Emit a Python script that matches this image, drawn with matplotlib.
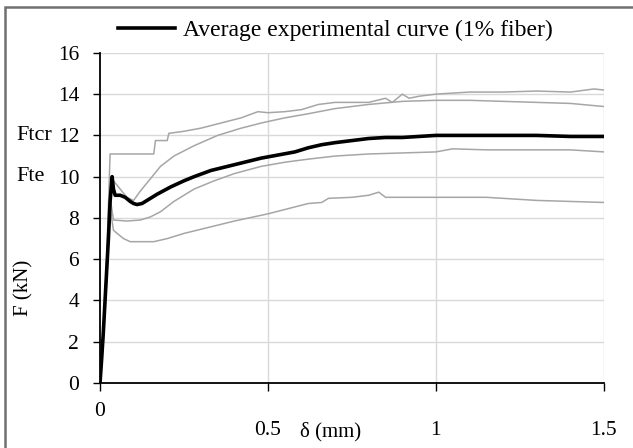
import matplotlib
matplotlib.use("Agg")
import matplotlib.pyplot as plt
from matplotlib.patches import Rectangle

# average experimental curve (1% fiber)
avg_d = [0, 0.005, 0.01, 0.015, 0.02, 0.025, 0.03, 0.036, 0.04, 0.045, 0.06, 0.075, 0.09, 0.1,
         0.11, 0.125, 0.14, 0.17, 0.21, 0.25, 0.28, 0.33, 0.38, 0.43, 0.48, 0.53, 0.58, 0.62,
         0.66, 0.7, 0.75, 0.8, 0.85, 0.9, 0.95, 1.0, 1.1, 1.2, 1.3, 1.4, 1.5]
avg_f = [0, 1.2, 2.5, 4.0, 5.5, 7.0, 8.8, 10.0, 9.4, 9.1, 9.1, 9.0, 8.8, 8.7,
         8.65, 8.7, 8.85, 9.15, 9.5, 9.8, 10.0, 10.3, 10.5, 10.7, 10.9, 11.05, 11.2, 11.4,
         11.55, 11.65, 11.75, 11.85, 11.9, 11.9, 11.95, 12.0, 12.0, 12.0, 12.0, 11.95, 11.95]

# individual specimens (grey)
s1_d = [0, 0.01, 0.02, 0.03, 0.16, 0.165, 0.2, 0.205, 0.25, 0.3, 0.36, 0.42, 0.47, 0.5, 0.55,
        0.6, 0.65, 0.7, 0.8, 0.85, 0.87, 0.9, 0.92, 0.95, 1.0, 1.05, 1.1, 1.2, 1.3, 1.4, 1.47, 1.5]
s1_f = [0, 2.5, 6, 11.1, 11.1, 11.75, 11.75, 12.1, 12.2, 12.35, 12.6, 12.85, 13.15, 13.1, 13.15,
        13.25, 13.5, 13.6, 13.6, 13.8, 13.6, 14.0, 13.8, 13.9, 14.0, 14.05, 14.1, 14.1, 14.15, 14.1, 14.25, 14.2]

s2_d = [0, 0.01, 0.02, 0.03, 0.04, 0.06, 0.08, 0.1, 0.12, 0.15, 0.18, 0.22, 0.28, 0.35, 0.42,
        0.48, 0.55, 0.62, 0.7, 0.8, 0.9, 1.0, 1.1, 1.2, 1.3, 1.4, 1.5]
s2_f = [0, 2.5, 6, 9.5, 9.8, 9.4, 9.0, 8.85, 9.3, 9.9, 10.5, 11.0, 11.5, 12.0, 12.35,
        12.6, 12.85, 13.05, 13.3, 13.5, 13.65, 13.7, 13.7, 13.65, 13.6, 13.55, 13.4]

s3_d = [0, 0.01, 0.02, 0.03, 0.04, 0.08, 0.12, 0.15, 0.18, 0.22, 0.28, 0.34, 0.4, 0.48, 0.55,
        0.62, 0.7, 0.8, 0.9, 1.0, 1.05, 1.15, 1.3, 1.4, 1.5]
s3_f = [0, 2.3, 5.5, 9.0, 7.9, 7.85, 7.9, 8.05, 8.3, 8.8, 9.4, 9.8, 10.15, 10.5, 10.7,
        10.85, 11.0, 11.1, 11.15, 11.2, 11.35, 11.3, 11.3, 11.3, 11.2]

s4_d = [0, 0.01, 0.02, 0.03, 0.04, 0.07, 0.09, 0.12, 0.16, 0.2, 0.25, 0.3, 0.35, 0.4, 0.5,
        0.56, 0.62, 0.66, 0.68, 0.75, 0.8, 0.83, 0.85, 1.0, 1.15, 1.2, 1.3, 1.4, 1.5]
s4_f = [0, 2, 5, 8.5, 7.4, 7.0, 6.85, 6.85, 6.85, 7.0, 7.25, 7.45, 7.65, 7.85, 8.2,
        8.45, 8.7, 8.75, 8.95, 9.0, 9.1, 9.25, 9.0, 9.0, 9.0, 8.95, 8.85, 8.8, 8.75]

y_ticks = [0, 2, 4, 6, 8, 10, 12, 14, 16]
x_major = [0.5, 1, 1.5]
x_major_labels = ["0.5", "1", "1.5"]
side_labels = [("Ftcr", 12), ("Fte", 10)]
legend_label = "Average experimental curve (1% fiber)"

plt.rcParams['font.family'] = ['Liberation Serif', 'DejaVu Serif']
fs = 15.5

fig = plt.figure(figsize=(6.33, 4.48), dpi=100)
ax = fig.add_axes([0.158, 0.145, 0.796, 0.737])

grey = '#a6a6a6'
for d, f in [(s1_d, s1_f), (s2_d, s2_f), (s3_d, s3_f), (s4_d, s4_f)]:
    ax.plot(d, f, color=grey, lw=1.1, zorder=2)
ax.plot(avg_d, avg_f, color='black', lw=2.6, zorder=3, label=legend_label)

ax.set_xlim(0, 1.5)
ax.set_ylim(0, 16)
ax.set_yticks(y_ticks)
ax.set_xticks(x_major)
ax.set_xticklabels(x_major_labels)
ax.set_xticks([0], minor=True)
ax.set_xticklabels(["0"], minor=True)
ax.grid(True, color='#d9d9d9', lw=1, zorder=0)
ax.set_axisbelow(True)

for s in ['top', 'right']:
    ax.spines[s].set_visible(False)
for s in ['left', 'bottom']:
    ax.spines[s].set_linewidth(1.3)

ax.tick_params(axis='y', direction='out', length=5, width=1, pad=10, labelsize=fs)
ax.tick_params(axis='x', which='major', direction='out', length=6, width=1, pad=21, labelsize=fs)
ax.tick_params(axis='x', which='minor', direction='out', length=6, width=1, pad=8, labelsize=fs)

for txt, yv in side_labels:
    ax.text(-0.166, yv, txt, transform=ax.get_yaxis_transform(), ha='left', va='center', fontsize=16)

ax.set_ylabel("F (kN)", fontsize=15)
ax.yaxis.set_label_coords(-0.133, 0.288)
ax.set_xlabel("δ (mm)", fontsize=15)
ax.xaxis.set_label_coords(0.458, -0.118)

fig.legend(loc='center', bbox_to_anchor=(0.53, 0.932), frameon=False, fontsize=17,
           handlelength=2.4, handletextpad=0.35)

# outer frame
fig.patches.append(Rectangle((0.008, -0.1), 1.2, 1.1 - 7 / 448, transform=fig.transFigure,
                             fill=False, edgecolor='#707070', lw=1.8, clip_on=False))

fig.savefig("out.png", dpi=100)
